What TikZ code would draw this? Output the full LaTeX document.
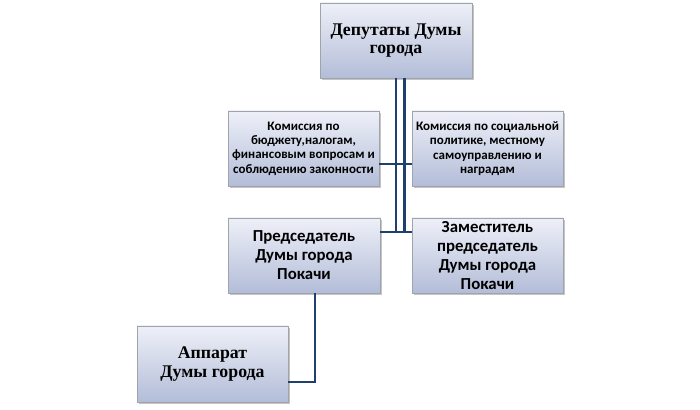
\documentclass[tikz,border=0pt]{standalone}
\usepackage{fontspec}
\setmainfont{Carlito}
\newfontfamily\serifbold{Liberation Serif}
\usetikzlibrary{shadows}
\definecolor{linecol}{HTML}{1F406E}
\definecolor{boxtop}{HTML}{EEF0F8}
\definecolor{boxbot}{HTML}{B3BDD8}
\definecolor{boxedge}{HTML}{9EA3AC}
\tikzset{
  orgbox/.style={draw=boxedge, line width=0.8pt, top color=boxtop, bottom color=boxbot,
    minimum width=151pt, minimum height=75pt, align=center, inner sep=1pt,
    drop shadow={shadow xshift=1.5pt, shadow yshift=-2pt, fill=black!45, opacity=0.5}},
  conn/.style={draw=linecol, line width=2.2pt},
  bigserif/.style={font=\serifbold\bfseries\fontsize{17.8}{18.5}\selectfont},
  smallsans/.style={font=\bfseries\fontsize{13}{14.4}\selectfont},
  midsans/.style={font=\bfseries\fontsize{16.8}{19}\selectfont}
}
\begin{document}
\begin{tikzpicture}[x=1pt,y=1pt]
\useasboundingbox (0,0) rectangle (700,409);
\node[orgbox, minimum width=152pt, bigserif] (top) at (396,368.5) {Депутаты Думы\\города};
\node[orgbox, smallsans] (k1) at (303.5,260.5) {Комиссия по\\бюджету,налогам,\\финансовым вопросам и\\соблюдению законности};
\node[orgbox, smallsans] (k2) at (487.5,260.5) {Комиссия по социальной\\политике, местному\\самоуправлению и\\наградам};
\node[orgbox, minimum width=152pt, midsans] (p) at (304,153.5) {Председатель\\Думы города\\Покачи};
\node[orgbox, midsans] (z) at (487.5,153.5) {Заместитель\\председатель\\Думы города\\Покачи};
\node[orgbox, minimum height=76pt, bigserif] (a) at (212.5,45) {Аппарат\\Думы города};
% connectors
\coordinate (v1) at (396,177);
\coordinate (v2) at (404.5,177);
\draw[conn, line width=2pt] (top.south -| v1) -- (v1);
\draw[conn, line width=2.6pt] (top.south -| v2) -- (v2);
\draw[conn] (k1.east |- 0,245) -- (k2.west |- 0,245);
\draw[conn] (p.east |- v1) -- (z.west |- v1);
\coordinate (pa) at (315,27);
\draw[conn] (p.south -| pa) -- (pa) -- (a.east |- pa);
\end{tikzpicture}
\end{document}
